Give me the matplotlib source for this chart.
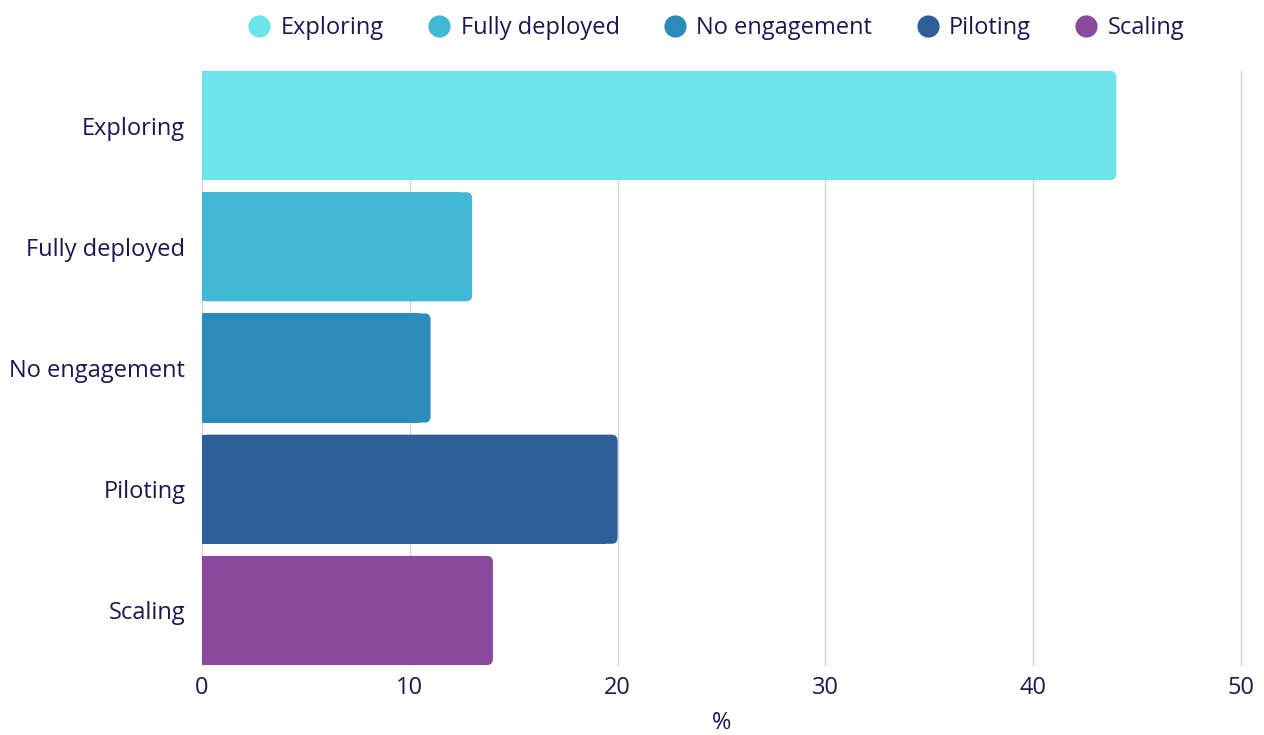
import matplotlib
matplotlib.use("Agg")
import matplotlib.pyplot as plt
from matplotlib.patches import FancyBboxPatch, Rectangle
from matplotlib.lines import Line2D

plt.rcParams['font.family'] = ['Open Sans', 'DejaVu Sans']

categories = ["Exploring", "Fully deployed", "No engagement", "Piloting", "Scaling"]
values = [44, 13, 11, 20, 14]
colors = ["#6ce5e8", "#41b8d5", "#2d8bba", "#2f5f98", "#8a4a9c"]
x_ticks = [0, 10, 20, 30, 40, 50]

text_color = "#1e1650"
grid_color = "#d3d3de"
fs = 17

fig = plt.figure(figsize=(12.64, 7.35), dpi=100)
ax = fig.add_axes([202 / 1264, 1 - 665 / 735, (1241 - 202) / 1264, (665 - 71) / 735])

bar_h = 0.9
ax.set_xlim(0, 50)
ax.set_ylim(len(categories) - 1 + bar_h / 2, -bar_h / 2)

fig.canvas.draw()
bbox = ax.get_window_extent()
px_per_x = bbox.width / 50
px_per_y = bbox.height / (len(categories) - 1 + bar_h)
radius_px = 6
rx = radius_px / px_per_x
aspect = px_per_x / px_per_y

for i, (v, c) in enumerate(zip(values, colors)):
    y0 = i - bar_h / 2
    # square left part, rounded right end
    ax.add_patch(Rectangle((0, y0), max(v - 2 * rx, 0), bar_h, facecolor=c,
                           edgecolor="none", zorder=3))
    ax.add_patch(FancyBboxPatch((0, y0), v, bar_h,
                                boxstyle=f"round,pad=0,rounding_size={rx}",
                                mutation_aspect=aspect, facecolor=c,
                                edgecolor="none", zorder=3))

ax.set_yticks(range(len(categories)))
ax.set_yticklabels(categories)
ax.set_xticks(x_ticks)
ax.set_xticklabels([str(t) for t in x_ticks])
ax.tick_params(axis="both", length=0, labelsize=fs, colors=text_color)
ax.tick_params(axis="y", pad=12)
ax.tick_params(axis="x", pad=8)
ax.set_xlabel("%", fontsize=fs, color=text_color, labelpad=8)

ax.grid(axis="x", color=grid_color, linewidth=1, zorder=0)
for gl in ax.get_xgridlines():
    gl.set_clip_on(False)
ax.set_axisbelow(True)
for s in ax.spines.values():
    s.set_visible(False)

handles = [Line2D([0], [0], marker="o", linestyle="none", markersize=16,
                  markerfacecolor=c, markeredgecolor="none") for c in colors]
fig.legend(handles, categories, loc="center", bbox_to_anchor=(716 / 1264, 1 - 28 / 735),
           ncol=5, frameon=False, fontsize=fs, labelcolor=text_color,
           handletextpad=0.4, columnspacing=1.85, handlelength=1.0)

fig.savefig("out.png", dpi=100, facecolor="white")
